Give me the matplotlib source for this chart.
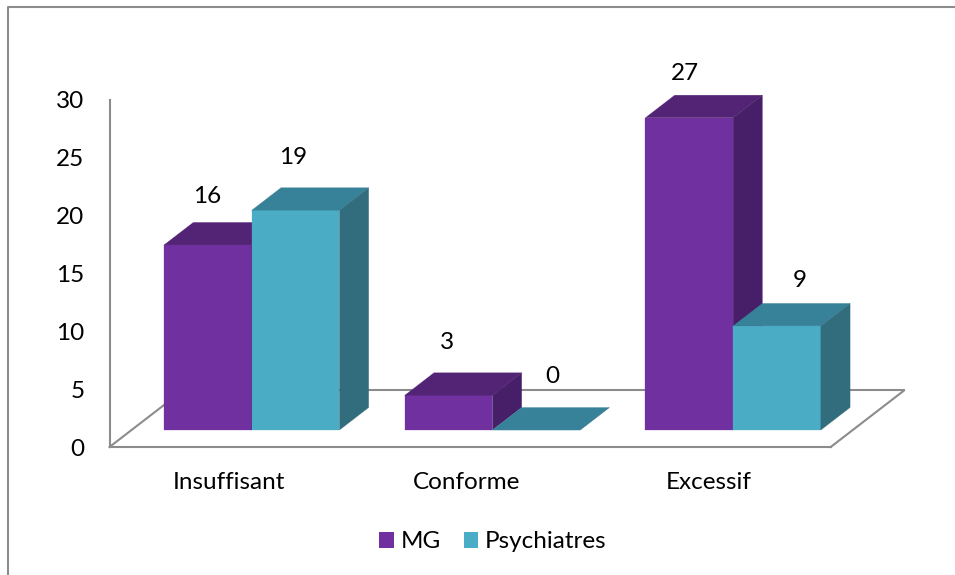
import matplotlib
matplotlib.use("Agg")
import matplotlib.pyplot as plt
from matplotlib.lines import Line2D
from matplotlib.patches import Patch, Polygon

plt.rcParams["font.family"] = ["Lato", "DejaVu Sans"]

categories = ["Insuffisant", "Conforme", "Excessif"]
mg = [16, 3, 27]
psychiatres = [19, 0, 9]

# pixel offsets of the value labels from the top of each front face
mg_label_offsets = [(-1, 48), (-2, 53), (-4, 44)]
psy_label_offsets = [(-2, 53), (16, 54), (23, 45)]

# purple and teal: front, top, side
MG_COLORS = ("#7030A0", "#532476", "#471F69")
PSY_COLORS = ("#4BACC6", "#388299", "#316D7D")
AXIS_COLOR = "#8C8C8C"

W, H = 955, 575
LEFT, RIGHT, TOP, BOTTOM = 109.5, 830.7, 100, 447
FONT_SIZE = 17.5

CAT_PX = (RIGHT - LEFT) / 3
BAR_WIDTH = 87.7 / CAT_PX
GROUP_STEP = 240.7 / CAT_PX
DEPTH_X = 74 / CAT_PX  # floor depth in category units
DEPTH_Y = 57 / (347 / 30)  # floor depth in value units
BAR_F0, BAR_F1 = 0.298, 0.693  # where the bars sit along the floor depth


def shift(x, v, f):
    """Oblique projection of a point going back in depth"""
    return (x + f * DEPTH_X, v + f * DEPTH_Y)


def draw_bar(ax, x0, value, colors, z):
    x1 = x0 + BAR_WIDTH
    front, top, side = colors
    faces = [
        ([shift(x0, 0, BAR_F0), shift(x1, 0, BAR_F0), shift(x1, value, BAR_F0), shift(x0, value, BAR_F0)], front),
        ([shift(x0, value, BAR_F0), shift(x1, value, BAR_F0), shift(x1, value, BAR_F1), shift(x0, value, BAR_F1)], top),
        ([shift(x1, 0, BAR_F0), shift(x1, 0, BAR_F1), shift(x1, value, BAR_F1), shift(x1, value, BAR_F0)], side),
    ]
    for pts, color in faces:
        ax.add_patch(Polygon(pts, closed=True, facecolor=color, edgecolor=color,
                             linewidth=0.2, zorder=z, clip_on=False))


fig = plt.figure(figsize=(W / 100, H / 100), dpi=100)
ax = fig.add_axes([LEFT / W, 1 - BOTTOM / H, (RIGHT - LEFT) / W, (BOTTOM - TOP) / H])
ax.set_xlim(0, 3)
ax.set_ylim(0, 30)

for name in ("top", "right"):
    ax.spines[name].set_visible(False)
for name in ("left", "bottom"):
    ax.spines[name].set_color(AXIS_COLOR)
    ax.spines[name].set_linewidth(1.5)

ax.set_yticks(range(0, 31, 5))
# labels sit a little left of the group centres in the reference
ax.set_xticks([0.5 - 1 / CAT_PX, 1.5 - 4 / CAT_PX, 2.5 - 1.5 / CAT_PX], categories)
ax.tick_params(axis="y", length=0, pad=18, labelsize=FONT_SIZE)
ax.tick_params(axis="x", length=0, pad=18, labelsize=FONT_SIZE)
for label in ax.get_yticklabels():
    label.set_verticalalignment("center_baseline")

# floor
ax.plot([0, DEPTH_X, 3 + DEPTH_X, 3], [0, DEPTH_Y, DEPTH_Y, 0], color=AXIS_COLOR,
        linewidth=1.5, clip_on=False, zorder=2, solid_joinstyle="miter")

for i in range(len(categories)):
    center = 0.5 + i * GROUP_STEP
    draw_bar(ax, center - BAR_WIDTH, mg[i], MG_COLORS, 3 + i)
    draw_bar(ax, center, psychiatres[i], PSY_COLORS, 3 + i + 0.5)

    mid_mg = shift(center - BAR_WIDTH / 2, mg[i], BAR_F0)
    mid_psy = shift(center + BAR_WIDTH / 2, psychiatres[i], BAR_F0)
    ax.annotate(str(mg[i]), mid_mg, xytext=mg_label_offsets[i], textcoords="offset pixels",
                ha="center", va="center", fontsize=FONT_SIZE, annotation_clip=False, zorder=10)
    ax.annotate(str(psychiatres[i]), mid_psy, xytext=psy_label_offsets[i], textcoords="offset pixels",
                ha="center", va="center", fontsize=FONT_SIZE, annotation_clip=False, zorder=10)

handles = [Patch(facecolor=MG_COLORS[0], label="MG"), Patch(facecolor=PSY_COLORS[0], label="Psychiatres")]
fig.legend(handles=handles, loc="center", bbox_to_anchor=(493 / W, 1 - 542 / H), ncol=2, frameon=False,
           fontsize=FONT_SIZE, handlelength=0.6, handleheight=0.6, handletextpad=0.27, columnspacing=0.95)

# outer chart frame, only left and top are in the picture
fig.add_artist(Line2D([8 / W, 8 / W, 1], [0, 1 - 6.5 / H, 1 - 6.5 / H], color=AXIS_COLOR, linewidth=1.5))

fig.savefig("out.png", dpi=100)
